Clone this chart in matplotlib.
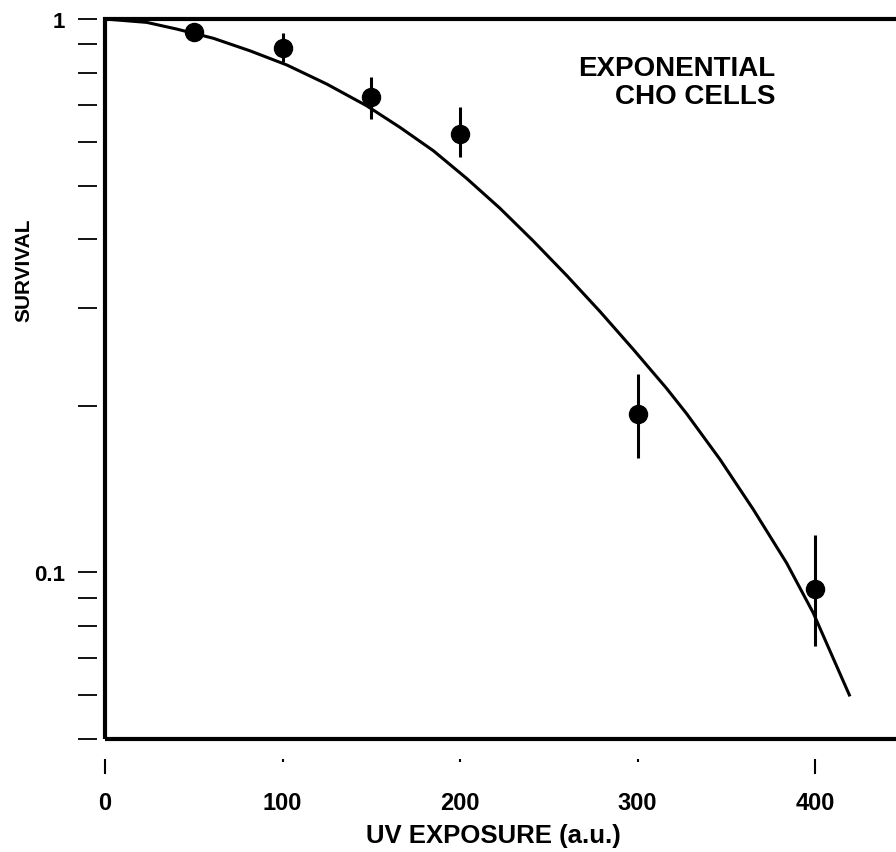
import matplotlib
matplotlib.use("Agg")
import matplotlib.pyplot as plt
import numpy as np
from matplotlib.patches import Rectangle
from matplotlib.ticker import FixedLocator, LogLocator, NullFormatter

plt.rcParams["font.family"] = ["Liberation Sans", "DejaVu Sans"]
plt.rcParams["font.weight"] = "bold"

# measured survival points (UV dose in a.u.)
dose = np.array([50, 100, 150, 200, 300, 400])
survival = np.array([0.947, 0.886, 0.724, 0.62, 0.193, 0.0932])
surv_low = np.array([0.935, 0.836, 0.659, 0.562, 0.161, 0.0736])
surv_high = np.array([0.96, 0.943, 0.786, 0.692, 0.228, 0.117])

# fitted curve
fit_dose = [0, 23.5, 40.4, 61, 81.7, 102.4, 124.9, 147.4, 166.2, 185, 203.8,
            222.5, 241.3, 260.1, 278.9, 297.6, 316.4, 327.7, 346.5, 365.2,
            384, 399, 419.7]
fit_surv = [1.0, 0.986, 0.959, 0.923, 0.876, 0.826, 0.763, 0.697, 0.637, 0.578,
            0.515, 0.455, 0.397, 0.344, 0.296, 0.253, 0.215, 0.1935, 0.160,
            0.130, 0.104, 0.0845, 0.0597]

y_major = [0.1, 1]
y_major_labels = ["0.1", "1"]
x_ticks = [0, 100, 200, 300, 400]

fig = plt.figure(figsize=(8.96, 8.53), dpi=100)
ax = fig.add_axes([105 / 896, 113 / 853, 798.75 / 896, 720 / 853])

ax.plot(fit_dose, fit_surv, color="black", linewidth=2.2, solid_capstyle="butt",
        solid_joinstyle="round")
yerr = np.vstack([survival - surv_low, surv_high - survival])
ax.errorbar(dose, survival, yerr=yerr, fmt="o", color="black", markersize=13,
            elinewidth=2.2, capsize=0)

ax.set_yscale("log")
ax.set_xlim(0, 450)
ax.set_ylim(0.05, 1)

ax.yaxis.set_major_locator(FixedLocator(y_major))
ax.set_yticklabels(y_major_labels)
ax.yaxis.set_minor_locator(LogLocator(base=10, subs=np.arange(2, 10)))
ax.yaxis.set_minor_formatter(NullFormatter())
ax.set_xticks(x_ticks)
ax.set_xticklabels([str(v) for v in x_ticks])

# ticks sit a little away from the frame
for side in ["top", "right", "left", "bottom"]:
    ax.spines[side].set_color("none")
ax.spines["left"].set_position(("outward", 5.8))
ax.spines["bottom"].set_position(("outward", 14.4))
ax.add_patch(Rectangle((0, 0), 1, 1, transform=ax.transAxes, fill=False,
                       linewidth=3, edgecolor="black", clip_on=False))

ax.tick_params(axis="y", which="both", direction="out", length=14, width=1.3,
               labelsize=16, pad=9)
ax.tick_params(axis="x", which="major", direction="out", length=11, width=1.5,
               labelsize=17, pad=12)
for t in ax.xaxis.get_major_ticks()[1:4]:
    t.tick1line.set_markersize(2)

ax.set_xlabel("UV EXPOSURE (a.u.)", fontsize=18.5, fontweight="bold")
ax.xaxis.set_label_coords(0.486, -0.116)
ax.set_ylabel("SURVIVAL", fontsize=15, fontweight="bold")
ax.yaxis.set_label_coords(-0.09, 0.653)

ax.text(0.839, 0.95, "EXPONENTIAL\nCHO CELLS", transform=ax.transAxes,
        ha="right", va="top", fontsize=20, fontweight="bold", linespacing=1.1,
        multialignment="right")

fig.savefig("out.png", dpi=100)
